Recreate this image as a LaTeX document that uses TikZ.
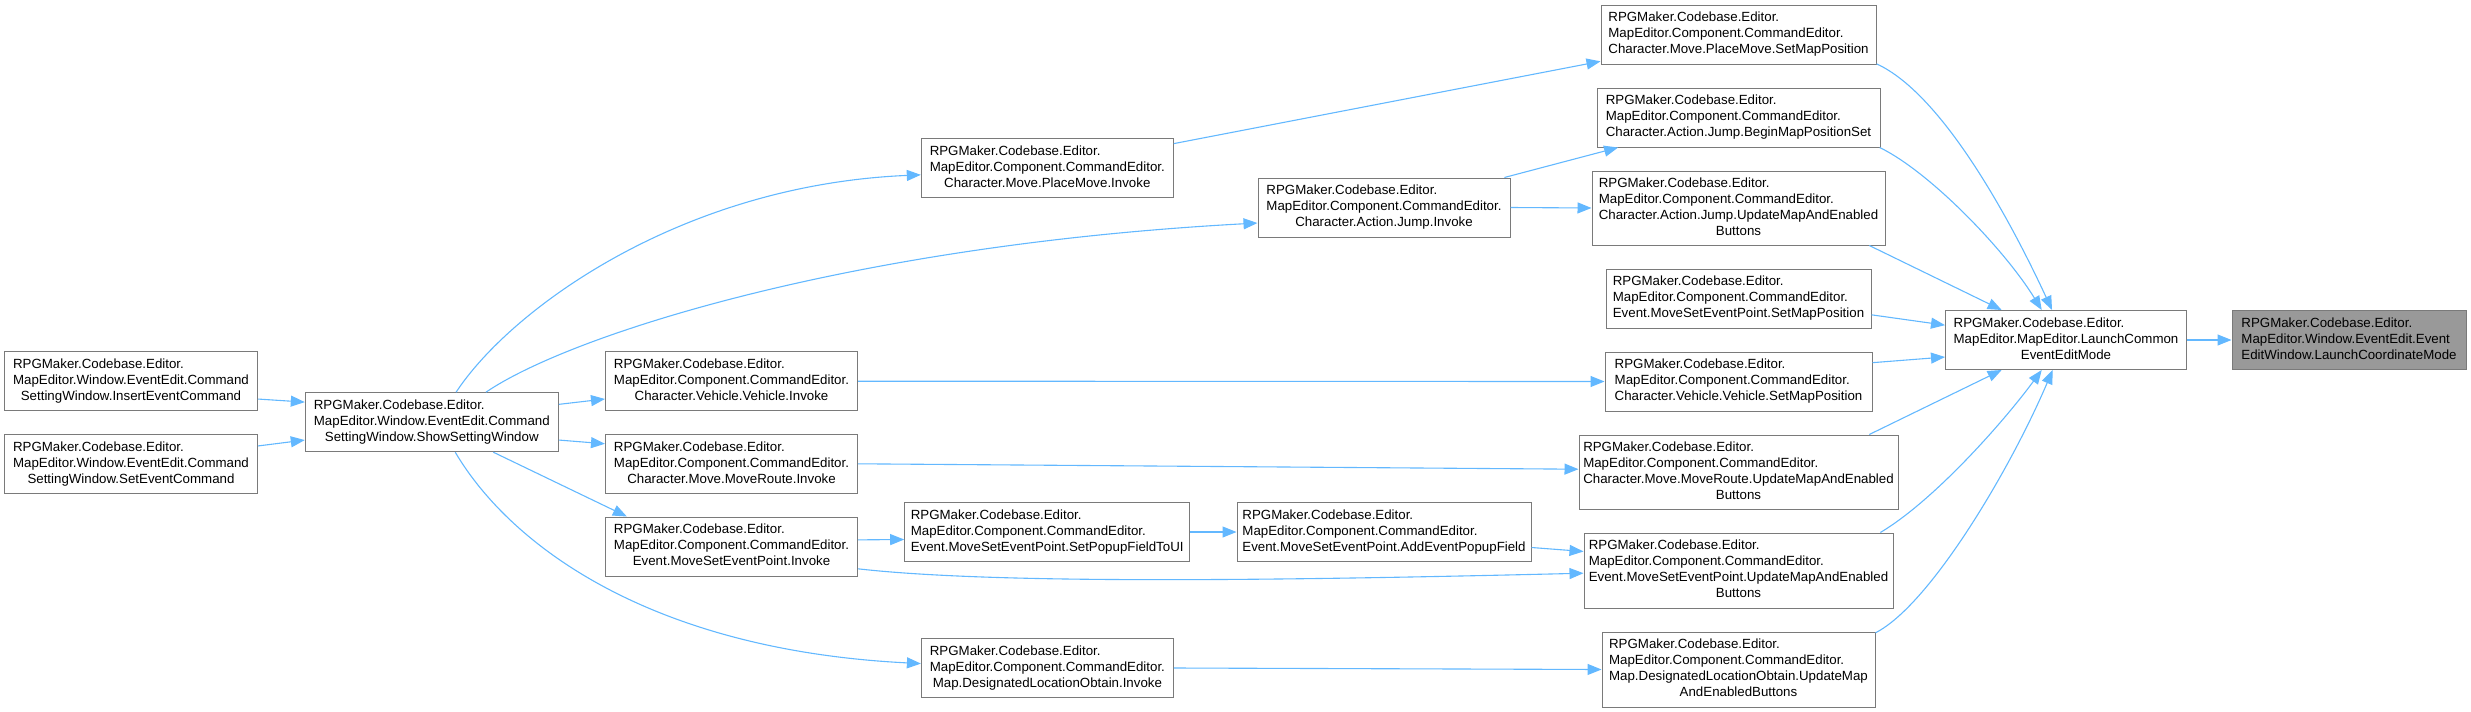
\documentclass[tikz,border=0pt]{standalone}
\usepackage{fontspec}
\setmainfont{Liberation Sans}
\usepackage{tikz}
\usetikzlibrary{arrows.meta}
\definecolor{edgeblue}{HTML}{63B8FF}
\definecolor{boxgray}{HTML}{7A7A7A}
\definecolor{hlgray}{HTML}{999999}
% function label: left-aligned lines, last line centred
\newcommand{\fname}[2]{\begin{tabular}{@{}l@{}}#1\\\multicolumn{1}{@{}c@{}}{#2}\end{tabular}}

\begin{document}
\begin{tikzpicture}[
    x=1pt, y=-1pt,
    fn/.style={draw=boxgray, line width=1pt, fill=white, inner sep=0pt,
               minimum height=59pt, font=\fontsize{13.3}{16}\selectfont},
    fn4/.style={fn, minimum height=75pt},
    hl/.style={fn, fill=hlgray},
    call/.style={-{Triangle[length=14pt, width=11pt]}, edgeblue, line width=1.1pt}
]
    \useasboundingbox (0,0) rectangle (2471,712);

    % callers of ShowSettingWindow
    \node[fn, minimum width=253pt] (insert) at (131,381.2)
        {\fname{RPGMaker.Codebase.Editor.\\MapEditor.Window.EventEdit.Command}{SettingWindow.InsertEventCommand}};
    \node[fn, minimum width=253pt] (setcmd) at (131,463.8)
        {\fname{RPGMaker.Codebase.Editor.\\MapEditor.Window.EventEdit.Command}{SettingWindow.SetEventCommand}};
    \node[fn, minimum width=253pt] (show) at (431.8,422.2)
        {\fname{RPGMaker.Codebase.Editor.\\MapEditor.Window.EventEdit.Command}{SettingWindow.ShowSettingWindow}};

    % Invoke column
    \node[fn, minimum width=252pt] (vehInv) at (731.5,381.2)
        {\fname{RPGMaker.Codebase.Editor.\\MapEditor.Component.CommandEditor.}{Character.Vehicle.Vehicle.Invoke}};
    \node[fn, minimum width=252pt] (routeInv) at (731.5,463.8)
        {\fname{RPGMaker.Codebase.Editor.\\MapEditor.Component.CommandEditor.}{Character.Move.MoveRoute.Invoke}};
    \node[fn, minimum width=252pt] (msepInv) at (731.5,546.5)
        {\fname{RPGMaker.Codebase.Editor.\\MapEditor.Component.CommandEditor.}{Event.MoveSetEventPoint.Invoke}};
    \node[fn, minimum width=252pt] (placeInv) at (1047.3,168.2)
        {\fname{RPGMaker.Codebase.Editor.\\MapEditor.Component.CommandEditor.}{Character.Move.PlaceMove.Invoke}};
    \node[fn, minimum width=285pt] (popup) at (1047.2,532)
        {\fname{RPGMaker.Codebase.Editor.\\MapEditor.Component.CommandEditor.}{Event.MoveSetEventPoint.SetPopupFieldToUI}};
    \node[fn, minimum width=252pt] (dloInv) at (1047.4,668)
        {\fname{RPGMaker.Codebase.Editor.\\MapEditor.Component.CommandEditor.}{Map.DesignatedLocationObtain.Invoke}};
    \node[fn, minimum width=252pt] (jumpInv) at (1384,207.5)
        {\fname{RPGMaker.Codebase.Editor.\\MapEditor.Component.CommandEditor.}{Character.Action.Jump.Invoke}};
    \node[fn, minimum width=294pt] (addPopup) at (1384,532)
        {\fname{RPGMaker.Codebase.Editor.\\MapEditor.Component.CommandEditor.}{Event.MoveSetEventPoint.AddEventPopupField}};

    % callers of LaunchCommonEventEditMode
    \node[fn, minimum width=275pt] (placeSet) at (1738.5,34.5)
        {\fname{RPGMaker.Codebase.Editor.\\MapEditor.Component.CommandEditor.}{Character.Move.PlaceMove.SetMapPosition}};
    \node[fn, minimum width=283pt] (beginSet) at (1738.5,117.5)
        {\fname{RPGMaker.Codebase.Editor.\\MapEditor.Component.CommandEditor.}{Character.Action.Jump.BeginMapPositionSet}};
    \node[fn4, minimum width=293pt, minimum height=74pt] (jumpUpd) at (1738.5,208)
        {\fname{RPGMaker.Codebase.Editor.\\MapEditor.Component.CommandEditor.\\Character.Action.Jump.UpdateMapAndEnabled}{Buttons}};
    \node[fn, minimum width=265pt] (evSet) at (1738.5,298.5)
        {\fname{RPGMaker.Codebase.Editor.\\MapEditor.Component.CommandEditor.}{Event.MoveSetEventPoint.SetMapPosition}};
    \node[fn, minimum width=267pt] (vehSet) at (1738.5,381.5)
        {\fname{RPGMaker.Codebase.Editor.\\MapEditor.Component.CommandEditor.}{Character.Vehicle.Vehicle.SetMapPosition}};
    \node[fn4, minimum width=319pt, minimum height=74pt] (routeUpd) at (1738.5,472)
        {\fname{RPGMaker.Codebase.Editor.\\MapEditor.Component.CommandEditor.\\Character.Move.MoveRoute.UpdateMapAndEnabled}{Buttons}};
    \node[fn4, minimum width=309pt] (msepUpd) at (1738.5,570.5)
        {\fname{RPGMaker.Codebase.Editor.\\MapEditor.Component.CommandEditor.\\Event.MoveSetEventPoint.UpdateMapAndEnabled}{Buttons}};
    \node[fn4, minimum width=273pt] (dloUpd) at (1738.5,669.5)
        {\fname{RPGMaker.Codebase.Editor.\\MapEditor.Component.CommandEditor.\\Map.DesignatedLocationObtain.UpdateMap}{AndEnabledButtons}};

    \node[fn, minimum width=241pt] (common) at (2066,340)
        {\fname{RPGMaker.Codebase.Editor.\\MapEditor.MapEditor.LaunchCommon}{EventEditMode}};
    \node[hl, minimum width=234pt] (coord) at (2349,340)
        {\fname{RPGMaker.Codebase.Editor.\\MapEditor.Window.EventEdit.Event}{EditWindow.LaunchCoordinateMode}};

    % edges
    \draw[call] (insert.-8) -- (show.171);
    \draw[call] (setcmd.8) -- (show.188);
    \draw[call] (show.51) .. controls (510,310) and (680,185) .. (placeInv.183);
    \draw[call] (show.29) .. controls (570,335) and (850,245) .. (jumpInv.187);
    \draw[call] (show.8) -- (vehInv.188);
    \draw[call] (show.-8) -- (routeInv.171);
    \draw[call] (show.-26) -- (msepInv.164);
    \draw[call] (show.-52) .. controls (510,545) and (650,650) .. (dloInv.178);

    \draw[call] (placeInv.11) -- (placeSet.191);
    \draw[call] (jumpInv.14) -- (beginSet.194);
    \draw[call] (jumpInv.east) -- (jumpUpd.west);
    \draw[call] (vehInv.east) -- (vehSet.west);
    \draw[call] (routeInv.east) -- (routeUpd.179);
    \draw[call] (msepInv.3) -- (popup.183);
    \draw[call] (popup.east) -- (addPopup.west);
    \draw[call] (addPopup.-6) -- (msepUpd.173);
    \draw[call] (msepInv.-10) .. controls (1000,585) and (1300,580) .. (msepUpd.181);
    \draw[call] (dloInv.east) -- (dloUpd.west);

    \draw[call] (placeSet.-12) .. controls (1945,95) and (2015,230) .. (common.115);
    \draw[call] (beginSet.-12) .. controls (1930,172) and (2005,250) .. (common.129);
    \draw[call] (jumpUpd.-16) -- (common.155);
    \draw[call] (evSet.-7) -- (common.173);
    \draw[call] (vehSet.8) -- (common.188);
    \draw[call] (routeUpd.16) -- (common.205);
    \draw[call] (msepUpd.15) .. controls (1935,500) and (2005,420) .. (common.231);
    \draw[call] (dloUpd.15) .. controls (1930,605) and (2010,470) .. (common.246);
    \draw[call] (common.east) -- (coord.west);
\end{tikzpicture}
\end{document}
